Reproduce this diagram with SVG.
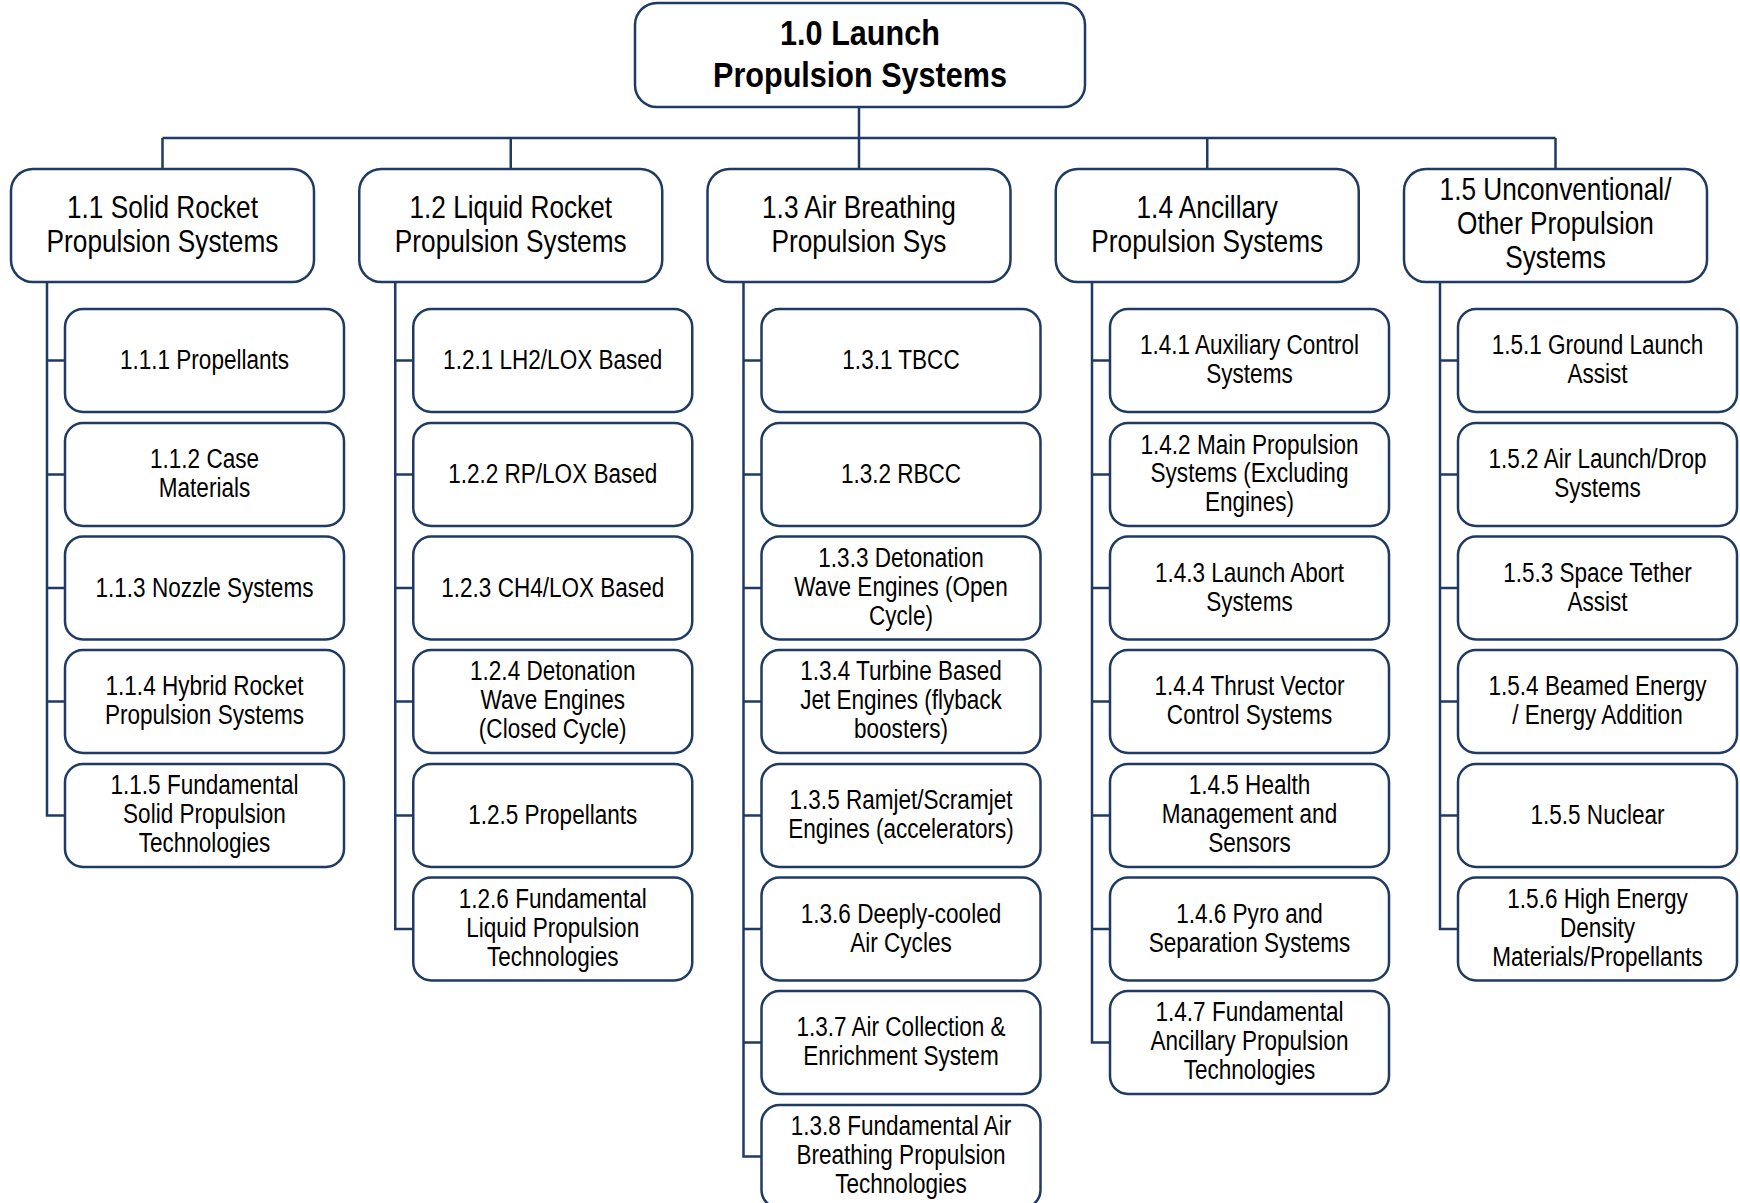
<svg xmlns="http://www.w3.org/2000/svg" width="1740" height="1203" viewBox="0 0 1740 1203">
<style>
.box{fill:#fff;stroke:#1f3a63;stroke-width:2.5}
.ln{fill:none;stroke:#1f3a63;stroke-width:2.5}
text{font-family:"Liberation Sans",Arial,sans-serif;fill:#000;text-anchor:middle}
.t0{font-size:36px;font-weight:bold}
.t1{font-size:32px}
.t2{font-size:27px}
</style>
<rect width="1740" height="1203" fill="#fff"/>
<g id="connectors">
<path class="ln" d="M859 107V138M162.5 138H1555.5M162.5 138V169M510.75 138V169M859 138V169M1207.25 138V169M1555.5 138V169"/>
<path class="ln" d="M47 282V815.5H65M47 360.5H65M47 474.5H65M47 588H65M47 701.5H65"/>
<path class="ln" d="M395.25 282V929H413.25M395.25 360.5H413.25M395.25 474.5H413.25M395.25 588H413.25M395.25 701.5H413.25M395.25 815.5H413.25"/>
<path class="ln" d="M743.5 282V1156.5H761.5M743.5 360.5H761.5M743.5 474.5H761.5M743.5 588H761.5M743.5 701.5H761.5M743.5 815.5H761.5M743.5 929H761.5M743.5 1042.5H761.5"/>
<path class="ln" d="M1092 282V1042.5H1110M1092 360.5H1110M1092 474.5H1110M1092 588H1110M1092 701.5H1110M1092 815.5H1110M1092 929H1110"/>
<path class="ln" d="M1440 282V929H1458M1440 360.5H1458M1440 474.5H1458M1440 588H1458M1440 701.5H1458M1440 815.5H1458"/>
</g>
<g id="n1_0"><rect class="box" x="635" y="3" width="450" height="104" rx="22"/><text class="t0" transform="matrix(.85 0 0 1 129 0)"><tspan x="860" y="45">1.0 Launch</tspan><tspan x="860" y="87">Propulsion Systems</tspan></text></g>

<g id="n1_1"><rect class="box" x="11" y="169" width="303" height="113" rx="22"/><text class="t1" transform="matrix(.82 0 0 1 29.25 0)"><tspan x="162.5" y="218">1.1 Solid Rocket</tspan><tspan x="162.5" y="252">Propulsion Systems</tspan></text></g>
<g id="n1_2"><rect class="box" x="359.25" y="169" width="303" height="113" rx="22"/><text class="t1" transform="matrix(.82 0 0 1 91.935 0)"><tspan x="510.75" y="218">1.2 Liquid Rocket</tspan><tspan x="510.75" y="252">Propulsion Systems</tspan></text></g>
<g id="n1_3"><rect class="box" x="707.5" y="169" width="303" height="113" rx="22"/><text class="t1" transform="matrix(.82 0 0 1 154.62 0)"><tspan x="859" y="218">1.3 Air Breathing</tspan><tspan x="859" y="252">Propulsion Sys</tspan></text></g>
<g id="n1_4"><rect class="box" x="1055.75" y="169" width="303" height="113" rx="22"/><text class="t1" transform="matrix(.82 0 0 1 217.305 0)"><tspan x="1207.25" y="218">1.4 Ancillary</tspan><tspan x="1207.25" y="252">Propulsion Systems</tspan></text></g>
<g id="n1_5"><rect class="box" x="1404" y="169" width="303" height="113" rx="22"/><text class="t1" transform="matrix(.82 0 0 1 279.99 0)"><tspan x="1555.5" y="200">1.5 Unconventional/</tspan><tspan x="1555.5" y="234">Other Propulsion</tspan><tspan x="1555.5" y="268">Systems</tspan></text></g>

<g id="n1_1_1"><rect class="box" x="65" y="309" width="279" height="103" rx="18"/><text class="t2" transform="matrix(.835 0 0 1 33.74 1)"><tspan x="204.5" y="368.5">1.1.1 Propellants</tspan></text></g>
<g id="n1_1_2"><rect class="box" x="65" y="423" width="279" height="103" rx="18"/><text class="t2" transform="matrix(.835 0 0 1 33.74 1)"><tspan x="204.5" y="467.5">1.1.2 Case</tspan><tspan x="204.5" y="496.5">Materials</tspan></text></g>
<g id="n1_1_3"><rect class="box" x="65" y="536.5" width="279" height="103" rx="18"/><text class="t2" transform="matrix(.835 0 0 1 33.74 1)"><tspan x="204.5" y="596">1.1.3 Nozzle Systems</tspan></text></g>
<g id="n1_1_4"><rect class="box" x="65" y="650" width="279" height="103" rx="18"/><text class="t2" transform="matrix(.835 0 0 1 33.74 1)"><tspan x="204.5" y="694.5">1.1.4 Hybrid Rocket</tspan><tspan x="204.5" y="723.5">Propulsion Systems</tspan></text></g>
<g id="n1_1_5"><rect class="box" x="65" y="764" width="279" height="103" rx="18"/><text class="t2" transform="matrix(.835 0 0 1 33.74 1)"><tspan x="204.5" y="793.5">1.1.5 Fundamental</tspan><tspan x="204.5" y="822.5">Solid Propulsion</tspan><tspan x="204.5" y="851.5">Technologies</tspan></text></g>

<g id="n1_2_1"><rect class="box" x="413.25" y="309" width="279" height="103" rx="18"/><text class="t2" transform="matrix(.835 0 0 1 91.2 1)"><tspan x="552.75" y="368.5">1.2.1 LH2/LOX Based</tspan></text></g>
<g id="n1_2_2"><rect class="box" x="413.25" y="423" width="279" height="103" rx="18"/><text class="t2" transform="matrix(.835 0 0 1 91.2 1)"><tspan x="552.75" y="482.5">1.2.2 RP/LOX Based</tspan></text></g>
<g id="n1_2_3"><rect class="box" x="413.25" y="536.5" width="279" height="103" rx="18"/><text class="t2" transform="matrix(.835 0 0 1 91.2 1)"><tspan x="552.75" y="596">1.2.3 CH4/LOX Based</tspan></text></g>
<g id="n1_2_4"><rect class="box" x="413.25" y="650" width="279" height="103" rx="18"/><text class="t2" transform="matrix(.835 0 0 1 91.2 1)"><tspan x="552.75" y="679.5">1.2.4 Detonation</tspan><tspan x="552.75" y="708.5">Wave Engines</tspan><tspan x="552.75" y="737.5">(Closed Cycle)</tspan></text></g>
<g id="n1_2_5"><rect class="box" x="413.25" y="764" width="279" height="103" rx="18"/><text class="t2" transform="matrix(.835 0 0 1 91.2 1)"><tspan x="552.75" y="823.5">1.2.5 Propellants</tspan></text></g>
<g id="n1_2_6"><rect class="box" x="413.25" y="877.5" width="279" height="103" rx="18"/><text class="t2" transform="matrix(.835 0 0 1 91.2 1)"><tspan x="552.75" y="907">1.2.6 Fundamental</tspan><tspan x="552.75" y="936">Liquid Propulsion</tspan><tspan x="552.75" y="965">Technologies</tspan></text></g>

<g id="n1_3_1"><rect class="box" x="761.5" y="309" width="279" height="103" rx="18"/><text class="t2" transform="matrix(.835 0 0 1 148.67 1)"><tspan x="901" y="368.5">1.3.1 TBCC</tspan></text></g>
<g id="n1_3_2"><rect class="box" x="761.5" y="423" width="279" height="103" rx="18"/><text class="t2" transform="matrix(.835 0 0 1 148.67 1)"><tspan x="901" y="482.5">1.3.2 RBCC</tspan></text></g>
<g id="n1_3_3"><rect class="box" x="761.5" y="536.5" width="279" height="103" rx="18"/><text class="t2" transform="matrix(.835 0 0 1 148.67 1)"><tspan x="901" y="566">1.3.3 Detonation</tspan><tspan x="901" y="595">Wave Engines (Open</tspan><tspan x="901" y="624">Cycle)</tspan></text></g>
<g id="n1_3_4"><rect class="box" x="761.5" y="650" width="279" height="103" rx="18"/><text class="t2" transform="matrix(.835 0 0 1 148.67 1)"><tspan x="901" y="679.5">1.3.4 Turbine Based</tspan><tspan x="901" y="708.5">Jet Engines (flyback</tspan><tspan x="901" y="737.5">boosters)</tspan></text></g>
<g id="n1_3_5"><rect class="box" x="761.5" y="764" width="279" height="103" rx="18"/><text class="t2" transform="matrix(.835 0 0 1 148.67 1)"><tspan x="901" y="808.5">1.3.5 Ramjet/Scramjet</tspan><tspan x="901" y="837.5">Engines (accelerators)</tspan></text></g>
<g id="n1_3_6"><rect class="box" x="761.5" y="877.5" width="279" height="103" rx="18"/><text class="t2" transform="matrix(.835 0 0 1 148.67 1)"><tspan x="901" y="922">1.3.6 Deeply-cooled</tspan><tspan x="901" y="951">Air Cycles</tspan></text></g>
<g id="n1_3_7"><rect class="box" x="761.5" y="991" width="279" height="103" rx="18"/><text class="t2" transform="matrix(.835 0 0 1 148.67 1)"><tspan x="901" y="1035.5">1.3.7 Air Collection &amp;</tspan><tspan x="901" y="1064.5">Enrichment System</tspan></text></g>
<g id="n1_3_8"><rect class="box" x="761.5" y="1105" width="279" height="103" rx="18"/><text class="t2" transform="matrix(.835 0 0 1 148.67 1)"><tspan x="901" y="1134.5">1.3.8 Fundamental Air</tspan><tspan x="901" y="1163.5">Breathing Propulsion</tspan><tspan x="901" y="1192.5">Technologies</tspan></text></g>

<g id="n1_4_1"><rect class="box" x="1110" y="309" width="279" height="103" rx="18"/><text class="t2" transform="matrix(.835 0 0 1 206.17 1)"><tspan x="1249.5" y="353.5">1.4.1 Auxiliary Control</tspan><tspan x="1249.5" y="382.5">Systems</tspan></text></g>
<g id="n1_4_2"><rect class="box" x="1110" y="423" width="279" height="103" rx="18"/><text class="t2" transform="matrix(.835 0 0 1 206.17 1)"><tspan x="1249.5" y="452.5">1.4.2 Main Propulsion</tspan><tspan x="1249.5" y="481.5">Systems (Excluding</tspan><tspan x="1249.5" y="510.5">Engines)</tspan></text></g>
<g id="n1_4_3"><rect class="box" x="1110" y="536.5" width="279" height="103" rx="18"/><text class="t2" transform="matrix(.835 0 0 1 206.17 1)"><tspan x="1249.5" y="581">1.4.3 Launch Abort</tspan><tspan x="1249.5" y="610">Systems</tspan></text></g>
<g id="n1_4_4"><rect class="box" x="1110" y="650" width="279" height="103" rx="18"/><text class="t2" transform="matrix(.835 0 0 1 206.17 1)"><tspan x="1249.5" y="694.5">1.4.4 Thrust Vector</tspan><tspan x="1249.5" y="723.5">Control Systems</tspan></text></g>
<g id="n1_4_5"><rect class="box" x="1110" y="764" width="279" height="103" rx="18"/><text class="t2" transform="matrix(.835 0 0 1 206.17 1)"><tspan x="1249.5" y="793.5">1.4.5 Health</tspan><tspan x="1249.5" y="822.5">Management and</tspan><tspan x="1249.5" y="851.5">Sensors</tspan></text></g>
<g id="n1_4_6"><rect class="box" x="1110" y="877.5" width="279" height="103" rx="18"/><text class="t2" transform="matrix(.835 0 0 1 206.17 1)"><tspan x="1249.5" y="922">1.4.6 Pyro and</tspan><tspan x="1249.5" y="951">Separation Systems</tspan></text></g>
<g id="n1_4_7"><rect class="box" x="1110" y="991" width="279" height="103" rx="18"/><text class="t2" transform="matrix(.835 0 0 1 206.17 1)"><tspan x="1249.5" y="1020.5">1.4.7 Fundamental</tspan><tspan x="1249.5" y="1049.5">Ancillary Propulsion</tspan><tspan x="1249.5" y="1078.5">Technologies</tspan></text></g>

<g id="n1_5_1"><rect class="box" x="1458" y="309" width="279" height="103" rx="18"/><text class="t2" transform="matrix(.835 0 0 1 263.59 1)"><tspan x="1597.5" y="353.5">1.5.1 Ground Launch</tspan><tspan x="1597.5" y="382.5">Assist</tspan></text></g>
<g id="n1_5_2"><rect class="box" x="1458" y="423" width="279" height="103" rx="18"/><text class="t2" transform="matrix(.835 0 0 1 263.59 1)"><tspan x="1597.5" y="467.5">1.5.2 Air Launch/Drop</tspan><tspan x="1597.5" y="496.5">Systems</tspan></text></g>
<g id="n1_5_3"><rect class="box" x="1458" y="536.5" width="279" height="103" rx="18"/><text class="t2" transform="matrix(.835 0 0 1 263.59 1)"><tspan x="1597.5" y="581">1.5.3 Space Tether</tspan><tspan x="1597.5" y="610">Assist</tspan></text></g>
<g id="n1_5_4"><rect class="box" x="1458" y="650" width="279" height="103" rx="18"/><text class="t2" transform="matrix(.835 0 0 1 263.59 1)"><tspan x="1597.5" y="694.5">1.5.4 Beamed Energy</tspan><tspan x="1597.5" y="723.5">/ Energy Addition</tspan></text></g>
<g id="n1_5_5"><rect class="box" x="1458" y="764" width="279" height="103" rx="18"/><text class="t2" transform="matrix(.835 0 0 1 263.59 1)"><tspan x="1597.5" y="823.5">1.5.5 Nuclear</tspan></text></g>
<g id="n1_5_6"><rect class="box" x="1458" y="877.5" width="279" height="103" rx="18"/><text class="t2" transform="matrix(.835 0 0 1 263.59 1)"><tspan x="1597.5" y="907">1.5.6 High Energy</tspan><tspan x="1597.5" y="936">Density</tspan><tspan x="1597.5" y="965">Materials/Propellants</tspan></text></g>
</svg>
